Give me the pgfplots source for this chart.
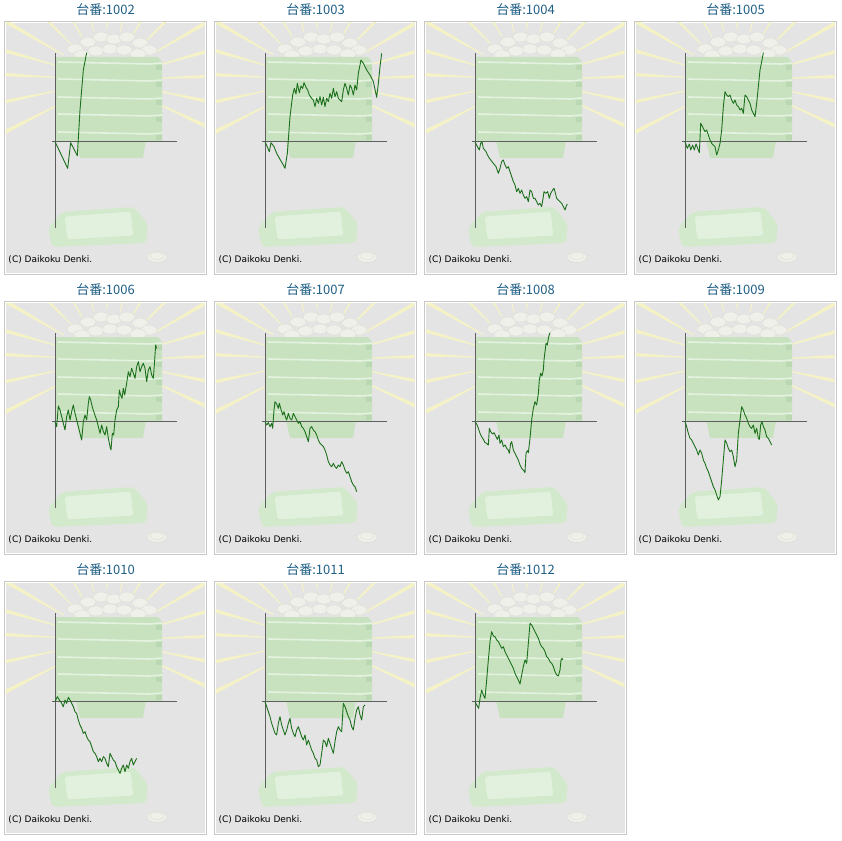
\documentclass[border=0pt]{standalone}
\usepackage{pgfplots}
\pgfplotsset{compat=1.18}
\usepackage{fontspec}
\setmainfont{DejaVu Sans}
\newfontfamily\jp{Noto Sans CJK JP}
\definecolor{panelbg}{RGB}{228,228,228}
\definecolor{panelborder}{RGB}{200,200,200}
\definecolor{ray}{RGB}{245,243,198}
\definecolor{slab}{RGB}{200,226,192}
\definecolor{slabedge}{RGB}{186,216,178}
\definecolor{stripe}{RGB}{228,242,224}
\definecolor{coin}{RGB}{240,240,234}
\definecolor{coinedge}{RGB}{222,222,214}
\definecolor{tray}{RGB}{210,233,204}
\definecolor{trayin}{RGB}{226,241,222}
\definecolor{titleblue}{RGB}{31,95,134}
\definecolor{axgray}{RGB}{95,95,95}
\definecolor{linegreen}{RGB}{28,112,28}
\pgfplotsset{panelaxis/.style={
  scale only axis, width=125pt, height=175.67pt,
  xmin=-10, xmax=365, ymin=-260, ymax=267,
  axis lines=middle,
  axis line style={-, draw=axgray, line width=0.8pt},
  every inner x axis line/.append style={-},
  every inner y axis line/.append style={-},
  xtick=\empty, ytick=\empty, clip=true,
  anchor=south west}}
\newcommand{\panelbg}{%
  \filldraw[fill=white, draw=panelborder, line width=0.8pt] (4,21.5) rectangle (206,274);
  \fill[panelbg] (5.5,23) rectangle (204.5,272.5);
  \begin{scope}
    \clip (5.5,23) rectangle (204.5,272.5);
    \foreach \a in {25,12,-2,-16,-30,-45,-60,-75,-90,-105,-120,-135,-150,-164,-177,-192,-207}{
      \fill[ray] ($(107,80)+(\a-0.5:50)$) -- ($(107,80)+(\a+0.5:50)$) -- ($(107,80)+(\a+1.1:150)$) -- ($(107,80)+(\a-1.1:150)$) -- cycle;
    }
    % coin pile
    \foreach \cx/\cy in {75/49,88/42,101/37,114/39,127/37,140/43,149/50,82/55,96/51,110/49,124/50,138/54}{
      \filldraw[fill=coin, draw=coinedge, line width=0.4pt] (\cx,\cy) ellipse [x radius=8, y radius=5];
    }
    % base
    \fill[slab] (76,140) -- (146,140) -- (143,158) -- (80,158) -- cycle;
    % slabs
    \fill[slab] (56,57) -- (158,57) -- (162,62) -- (162,142) -- (56,142) -- cycle;
    \foreach \yy in {62,79,97,114,132}{
      \draw[stripe, line width=1.6pt] (58,\yy) -- (150,\yy+2) -- (162,\yy+1);
      \fill[slabedge] (156,\yy+3) rectangle (162,\yy+8);
    }
    % tray
    \fill[tray, rounded corners=4] (48,228) -- (62,212) -- (134,207) -- (148,224) -- (146,243) -- (52,247) -- cycle;
    \filldraw[fill=trayin, draw=tray, line width=1pt, rounded corners=3] (64,216) -- (131,211) -- (134,236) -- (67,240) -- cycle;
    % small coin
    \filldraw[fill=coin, draw=coinedge, line width=0.5pt] (157,257) ellipse [x radius=10, y radius=5.5];
    \draw[coinedge, line width=0.4pt] (157,256) ellipse [x radius=7, y radius=3.5];
  \end{scope}
}
\newcommand{\chartpanel}[4]{%
  \begin{scope}[shift={(#1pt,-#2pt)}, x=1pt, y=-1pt]
    \panelbg
    \node[text=titleblue, font=\jp\fontsize{13}{15}\selectfont, inner sep=0pt] at (105.5,10) {台番:#3};
    \node[anchor=base west, font=\fontsize{9}{10}\selectfont, inner sep=0pt] at (8.3,262) {(C) Daikoku Denki.};
  \end{scope}
  \begin{axis}[panelaxis, at={({#1pt+51.67pt},{-#2pt-228.33pt})}]
    \addplot[color=linegreen, line width=0.9pt, line join=round, mark=none] coordinates {#4};
  \end{axis}
}
\usetikzlibrary{calc}
\begin{document}
\begin{tikzpicture}
\fill[white] (0,0) rectangle (842pt,-840pt);
\chartpanel{0}{0}{1002}{(0,0) (38,-80) (47,-3) (67,-42) (75,95) (85,215) (95,267)}
\chartpanel{210}{0}{1003}{(0,0) (13,-30) (18,-3) (27,-15) (35,-35) (45,-53) (55,-70) (60,-80) (67,-35) (75,75) (83,140) (88,160) (93,143) (97,175) (103,147) (108,167) (113,160) (117,177) (123,163) (128,155) (133,140) (140,130) (145,125) (150,105) (155,130) (160,115) (165,135) (170,110) (175,133) (180,105) (185,130) (190,120) (195,145) (200,130) (205,160) (210,135) (215,150) (220,130) (225,125) (230,120) (235,155) (240,175) (245,160) (250,140) (255,170) (260,160) (265,140) (270,170) (275,155) (280,205) (288,245) (295,235) (305,215) (315,200) (325,180) (335,133) (340,175) (345,225) (350,265)}
\chartpanel{420}{0}{1004}{(0,0) (7,-15) (13,-25) (17,-5) (21,0) (25,-20) (33,-30) (40,-45) (47,-55) (55,-65) (63,-75) (70,-95) (75,-80) (80,-60) (85,-55) (90,-70) (95,-80) (100,-75) (105,-90) (110,-105) (115,-120) (120,-130) (125,-150) (130,-140) (135,-155) (140,-145) (145,-160) (150,-170) (155,-165) (160,-180) (165,-145) (170,-150) (175,-170) (180,-170) (185,-180) (190,-190) (195,-185) (200,-195) (205,-165) (207,-150) (213,-155) (218,-150) (223,-170) (227,-155) (233,-145) (237,-140) (240,-150) (245,-170) (250,-175) (255,-180) (260,-185) (265,-195) (270,-205) (273,-195) (277,-187)}
\chartpanel{630}{0}{1005}{(0,0) (7,-20) (13,-7) (17,-25) (23,-10) (28,-25) (33,-7) (38,-20) (43,-33) (47,55) (50,50) (55,40) (60,30) (65,35) (70,20) (75,5) (80,-5) (85,-10) (90,-15) (95,-40) (100,-25) (105,-5) (110,35) (115,105) (120,150) (125,140) (130,135) (135,140) (140,125) (145,115) (150,125) (155,110) (160,105) (165,95) (170,100) (175,85) (180,140) (185,135) (190,125) (195,115) (200,95) (205,85) (210,75) (215,115) (220,165) (225,215) (230,240) (235,267)}
\chartpanel{0}{280}{1006}{(0,0) (5,-15) (10,47) (15,35) (20,15) (25,-5) (30,-25) (35,15) (40,35) (45,5) (50,30) (55,50) (60,25) (65,5) (70,-15) (75,-35) (80,-55) (85,0) (90,20) (95,5) (100,55) (103,75) (107,65) (113,40) (118,25) (125,5) (130,-15) (135,-35) (140,-10) (145,-30) (150,-40) (155,-15) (160,-50) (165,-75) (168,-85) (172,-35) (176,-40) (180,5) (185,35) (190,45) (193,95) (197,80) (201,70) (205,100) (209,80) (215,115) (220,150) (225,135) (230,160) (235,145) (240,130) (245,165) (250,180) (255,150) (260,165) (265,175) (270,160) (275,120) (280,155) (285,165) (290,140) (295,130) (298,170) (302,230) (305,220)}
\chartpanel{210}{280}{1007}{(0,0) (5,-10) (10,-3) (15,-15) (20,-5) (23,-20) (27,35) (30,60) (35,53) (40,40) (43,55) (47,40) (53,20) (57,30) (61,15) (65,5) (70,25) (75,10) (80,5) (85,25) (90,15) (95,5) (100,-5) (105,0) (110,-15) (115,-20) (120,-30) (125,-45) (130,-60) (135,-20) (140,-15) (145,-25) (150,-30) (155,-40) (160,-55) (165,-65) (170,-70) (175,-75) (180,-85) (185,-100) (190,-120) (195,-130) (200,-135) (205,-125) (210,-135) (215,-140) (220,-130) (225,-135) (230,-120) (235,-130) (240,-145) (245,-155) (250,-150) (255,-165) (260,-180) (265,-190) (270,-195) (275,-210)}
\chartpanel{420}{280}{1008}{(0,0) (5,-7) (10,-20) (15,-35) (20,-45) (25,-53) (30,-63) (35,-65) (40,-70) (43,-20) (47,-30) (53,-37) (57,-33) (63,-45) (67,-53) (72,-40) (75,-65) (80,-55) (85,-75) (90,-70) (95,-80) (100,-85) (103,-95) (107,-65) (110,-60) (115,-85) (120,-95) (125,-105) (130,-115) (135,-130) (140,-140) (145,-145) (150,-153) (153,-95) (157,-87) (160,-93) (165,-50) (170,5) (175,40) (180,60) (185,50) (190,85) (193,125) (197,145) (201,137) (205,155) (207,185) (210,210) (213,235) (217,230) (221,255) (225,267)}
\chartpanel{630}{280}{1009}{(0,0) (5,-15) (10,-35) (15,-50) (20,-55) (25,-65) (30,-75) (35,-85) (40,-100) (45,-85) (50,-95) (55,-115) (60,-125) (65,-140) (70,-150) (75,-165) (80,-180) (85,-195) (90,-205) (95,-220) (100,-235) (105,-225) (110,-175) (115,-115) (120,-55) (125,-65) (130,-80) (135,-90) (140,-85) (145,-105) (150,-135) (155,-115) (160,-35) (165,5) (170,45) (175,35) (180,20) (185,10) (190,-5) (195,-15) (200,-20) (205,-10) (210,-35) (215,-20) (220,-50) (223,-53) (227,-10) (231,0) (235,-15) (240,-25) (245,-45) (250,-50) (255,-60) (260,-70)}
\chartpanel{0}{560}{1010}{(0,0) (7,15) (13,5) (17,0) (25,-15) (30,5) (35,-5) (40,13) (45,5) (50,-5) (55,-15) (60,-30) (65,-35) (70,-55) (75,-70) (80,-80) (85,-95) (90,-90) (95,-105) (100,-115) (105,-120) (110,-135) (115,-150) (120,-155) (125,-165) (130,-180) (135,-170) (140,-180) (145,-165) (150,-170) (155,-185) (160,-195) (165,-155) (170,-165) (175,-175) (180,-180) (185,-195) (190,-205) (195,-215) (200,-200) (205,-190) (210,-210) (215,-190) (220,-200) (225,-180) (230,-170) (235,-190) (240,-180) (245,-170)}
\chartpanel{210}{560}{1011}{(0,0) (5,-15) (10,-30) (15,-45) (20,-65) (25,-80) (30,-95) (35,-100) (40,-65) (45,-45) (50,-70) (55,-85) (60,-100) (65,-85) (70,-65) (75,-50) (80,-80) (85,-95) (90,-105) (95,-85) (100,-75) (105,-90) (110,-105) (115,-115) (120,-100) (125,-130) (130,-115) (135,-130) (140,-145) (145,-155) (150,-170) (155,-175) (160,-195) (165,-190) (170,-155) (175,-115) (180,-120) (185,-135) (190,-110) (195,-125) (200,-140) (205,-155) (210,-120) (215,-90) (220,-75) (225,-85) (230,-90) (235,-5) (240,-15) (245,-30) (250,-45) (255,-55) (260,-75) (265,-85) (270,-50) (275,-25) (280,-15) (285,-40) (290,-55) (295,-15) (300,-10)}
\chartpanel{420}{560}{1012}{(0,0) (5,-10) (11,-20) (15,10) (20,35) (25,20) (30,10) (35,65) (40,125) (45,180) (50,210) (55,197) (60,195) (65,185) (70,180) (75,170) (80,160) (85,165) (90,150) (95,140) (100,130) (105,120) (110,110) (115,100) (120,85) (125,75) (130,65) (135,53) (140,80) (145,105) (150,125) (155,115) (160,175) (165,235) (170,230) (175,220) (180,210) (185,200) (190,190) (195,175) (200,165) (205,160) (210,150) (215,135) (220,130) (225,120) (230,115) (235,105) (240,90) (245,80) (250,77) (255,95) (258,125) (261,130) (263,125)}
\pgfresetboundingbox
\useasboundingbox (0,0) rectangle (842pt,-840pt);
\end{tikzpicture}
\end{document}
